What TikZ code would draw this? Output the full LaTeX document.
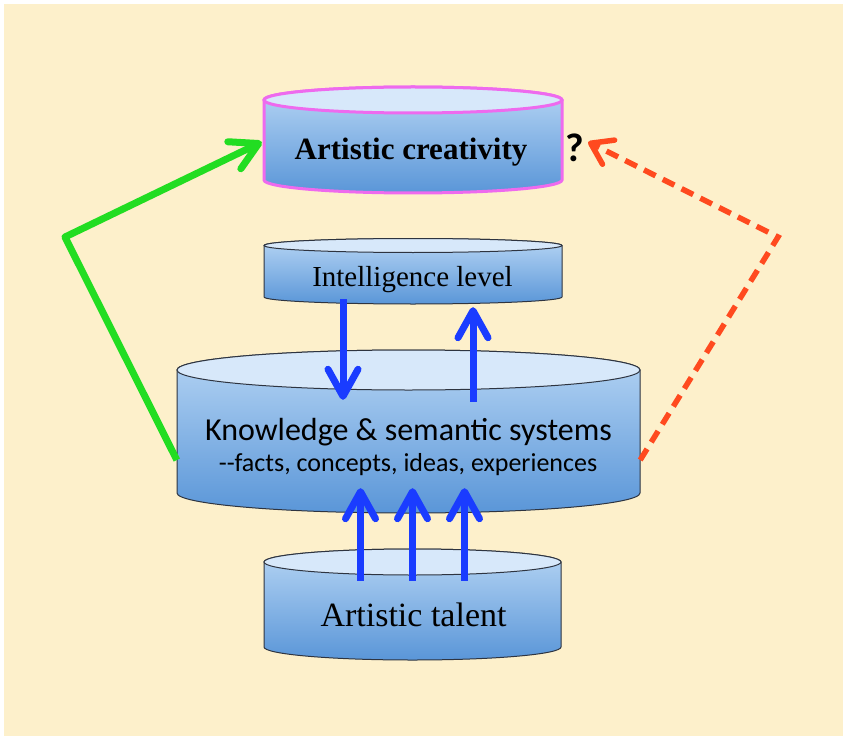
\documentclass[tikz,border=0pt]{standalone}
\usepackage{fontspec}
\setmainfont{Liberation Serif}
\newfontfamily\calibri{Carlito}
\usetikzlibrary{arrows.meta, calc}

\definecolor{paper}{HTML}{FDF0CB}
\definecolor{lidblue}{HTML}{D7E8FA}
\definecolor{drumtop}{HTML}{B6D5F4}
\definecolor{drumbot}{HTML}{5A96D8}
\definecolor{rimgray}{HTML}{2E3440}
\definecolor{rimpink}{HTML}{EE6AEE}
\definecolor{flowblue}{HTML}{1A3CFF}
\definecolor{flowgreen}{HTML}{22DD22}
\definecolor{floworange}{HTML}{FF4A1F}

% #1 name, #2 centre x, #3 lid y, #4 base y, #5 half width, #6 ellipse radius, #7 rim
\newcommand{\drum}[7]{%
  \shadedraw[top color=drumtop, bottom color=drumbot, #7]
    (#2-#5,#3) -- (#2-#5,#4) arc[start angle=180, end angle=0, x radius=#5, y radius=#6]
    -- (#2+#5,#3) arc[start angle=0, end angle=-180, x radius=#5, y radius=#6] -- cycle;
  \filldraw[fill=lidblue, #7] (#2,#3) ellipse[x radius=#5, y radius=#6];
  \node[inner sep=0pt, minimum width=2*#5, minimum height=#4-#3] (#1) at (#2,{(#3+#4)/2}) {};
}

\begin{document}
\begin{tikzpicture}[x=1pt, y=-1pt,
  grayrim/.style={draw=rimgray, line width=1pt},
  pinkrim/.style={draw=rimpink, line width=3pt},
  flow/.style={line width=7pt, flowblue, -{Straight Barb[length=27pt, width=30pt, round]}},
  greenpath/.style={line width=7pt, flowgreen, line join=round, -{Straight Barb[length=27pt, width=30pt, round]}},
  orangepath/.style={line width=5.5pt, floworange, dash pattern=on 13pt off 8pt, -{Straight Barb[length=20pt, width=27pt, round]}}]
  \fill[white] (0,0) rectangle (850,743);
  \fill[paper] (4,4) rectangle (843,736);

  \drum{creat}{413}{100}{180}{149}{13}{pinkrim}
  \drum{intel}{413}{245.5}{297}{149}{7}{grayrim}
  \drum{know}{408.5}{370}{493}{231.5}{20}{grayrim}
  \drum{talent}{412.5}{562}{647}{148.5}{13}{grayrim}

  \node[anchor=base, font=\bfseries\fontsize{31}{32}\selectfont] (creattxt) at (411,160) {Artistic creativity};
  \node[anchor=base, font=\calibri\bfseries\fontsize{40}{40}\selectfont] (qmark) at (575,162) {?};
  \node[anchor=base, font=\fontsize{29}{30}\selectfont] (inteltxt) at (412.5,286) {Intelligence level};
  \node[anchor=base, font=\calibri\fontsize{32}{33}\selectfont] (knowtxt) at (408.5,440) {Knowledge \& semantic systems};
  \node[anchor=base, font=\calibri\fontsize{26}{28}\selectfont] (facts) at (408,471) {-{}-facts, concepts, ideas, experiences};
  \node[anchor=base, font=\fontsize{34}{36}\selectfont] (talenttxt) at (413.5,626) {Artistic talent};

  \draw[flow] ($(intel.south)+(-70,2)$) -- ($(know.north)+(-65.5,30)$);
  \draw[flow] ($(know.north)+(64.5,32)$) -- ($(intel.south)+(60,10)$);
  \foreach \dx in {-52,0,52}
    \draw[flow] ($(talent.north)+(\dx,19)$) -- ($(talent.north |- know.south)+(\dx,-5)$);

  \coordinate (gbend) at (65,237);
  \coordinate (rbend) at (778,237);
  \draw[greenpath] ($(know.west)+(0,28.5)$) -- (gbend) -- ($(creat.west)+(-2,2)$);
  \draw[orangepath] ($(know.east)+(0,28.5)$) -- (rbend) -- ($(creat.east)+(26,2)$);
\end{tikzpicture}
\end{document}
